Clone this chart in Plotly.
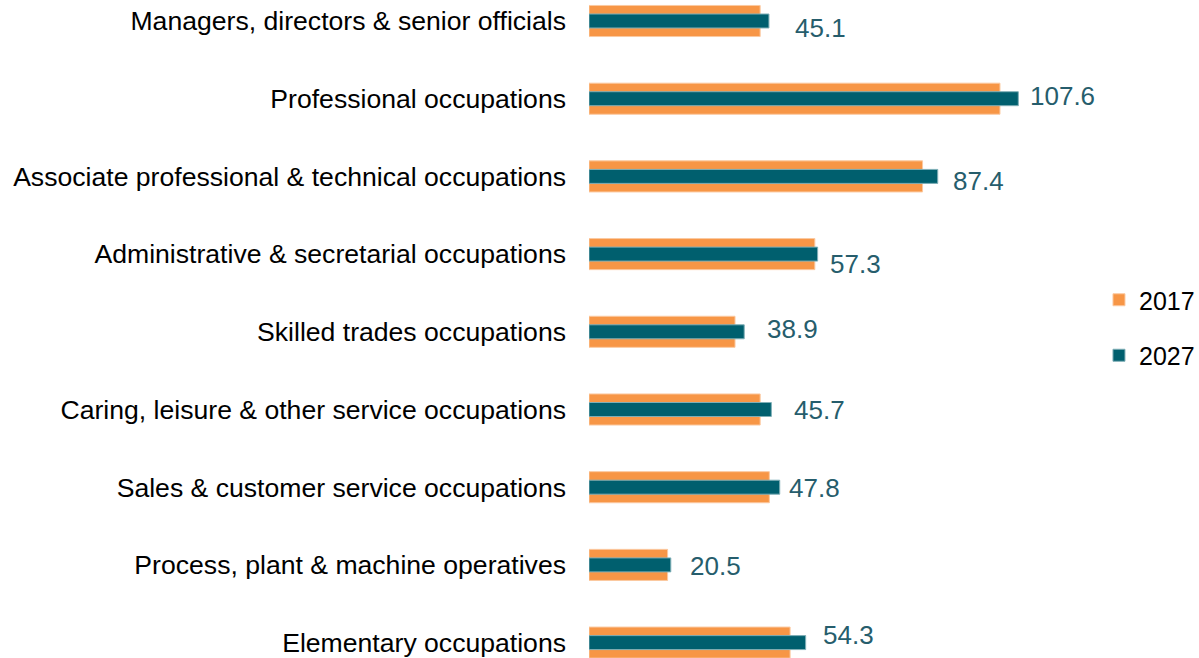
import plotly.graph_objects as go

categories = [
    "Managers, directors & senior officials",
    "Professional occupations",
    "Associate professional & technical occupations",
    "Administrative & secretarial occupations",
    "Skilled trades occupations",
    "Caring, leisure & other service occupations",
    "Sales & customer service occupations",
    "Process, plant & machine operatives",
    "Elementary occupations",
]
values_2017 = [42.9, 103.0, 83.6, 56.6, 36.6, 42.9, 45.2, 19.7, 50.4]
values_2027 = [45.1, 107.6, 87.4, 57.3, 38.9, 45.7, 47.8, 20.5, 54.3]

# label nudges (pixels) to mimic the original label placement
label_dx = [26, 12, 15, 12, 23, 23, 9, 19, 17]
label_dy = [7, -3, 5, 10, -3, 0, 1, 1, -8]

ORANGE = "#F79646"
TEAL = "#005F6E"
LABEL = "#265D6C"
FONT = "Liberation Sans, Arial, sans-serif"

fig = go.Figure()
fig.add_trace(go.Bar(
    y=categories, x=values_2017, orientation="h", name="2017",
    marker=dict(color=ORANGE, line=dict(color="#FBC9A0", width=1)),
    width=0.4, legend="legend",
))
fig.add_trace(go.Bar(
    y=categories, x=values_2027, orientation="h", name="2027",
    marker=dict(color=TEAL, line=dict(color="#7FAFB7", width=1)),
    width=0.18, legend="legend2",
))

for cat, v, dx, dy in zip(categories, values_2027, label_dx, label_dy):
    fig.add_annotation(
        x=v, y=cat, text=f"{v:.1f}", showarrow=False,
        xanchor="left", yanchor="middle", xshift=dx - 2, yshift=-dy,
        font=dict(family=FONT, size=26, color=LABEL),
    )

n = len(categories)
fig.update_layout(
    width=1199, height=658,
    margin=dict(l=589, r=99, t=0, b=0, autoexpand=False),
    paper_bgcolor="white", plot_bgcolor="white",
    barmode="overlay",
    font=dict(family=FONT, size=26, color="#000000"),
    showlegend=True,
    legend=dict(x=0.998, y=1 - 300 / 658, xanchor="left", yanchor="middle",
                font=dict(family=FONT, size=25, color="#000000"),
                bgcolor="rgba(0,0,0,0)", borderwidth=0),
    legend2=dict(x=0.998, y=1 - 355.5 / 658, xanchor="left", yanchor="middle",
                 font=dict(family=FONT, size=25, color="#000000"),
                 bgcolor="rgba(0,0,0,0)", borderwidth=0),
)
fig.update_xaxes(range=[0, 511 / 3.99], showgrid=False, zeroline=False,
                 showticklabels=False, showline=False, ticks="")
fig.update_yaxes(
    categoryorder="array", categoryarray=categories,
    range=[n - 1 + 15.4 / 77.7, -21 / 77.7],
    showgrid=False, zeroline=False, showline=False, ticks="",
    ticklabelstandoff=22, automargin=False,
    tickfont=dict(family=FONT, size=26.6, color="#000000"),
)

fig.write_html("out.html", config={"displayModeBar": False})

# remove the default page margin so the figure fills the window exactly
with open("out.html", "r", encoding="utf-8") as f:
    html = f.read()
html = html.replace("<head>", "<head><style>html,body{margin:0;padding:0;overflow:hidden;}</style>", 1)
with open("out.html", "w", encoding="utf-8") as f:
    f.write(html)
